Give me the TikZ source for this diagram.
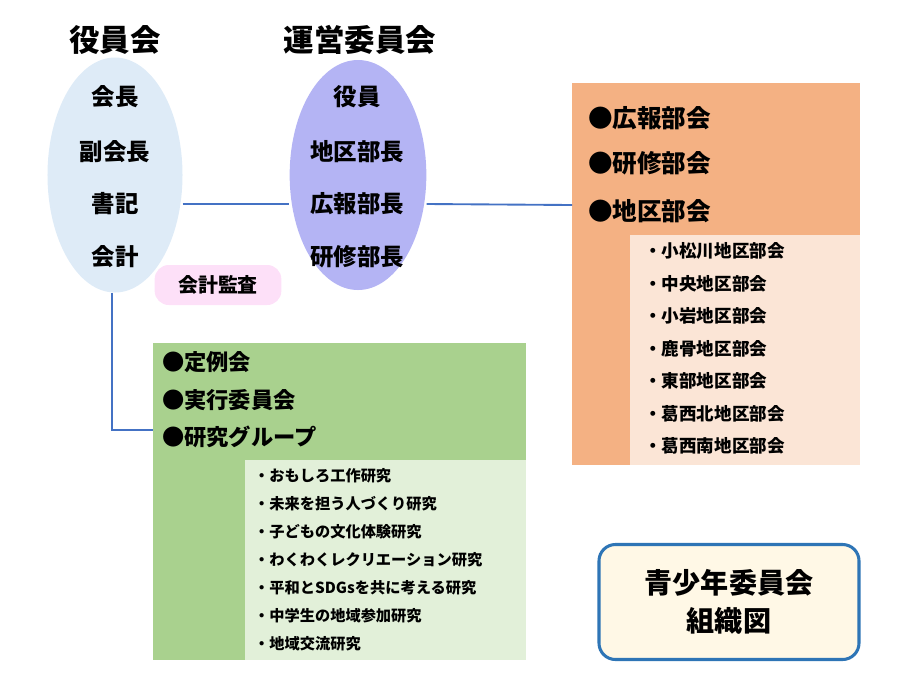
\documentclass[tikz,border=0pt]{standalone}
\usepackage{fontspec}
\setmainfont{Noto Sans CJK JP}
\usetikzlibrary{positioning,shapes.geometric}
\definecolor{linkblue}{HTML}{4472C4}
\definecolor{officerfill}{HTML}{DEEBF7}
\definecolor{boardfill}{HTML}{B4B4F4}
\definecolor{auditfill}{HTML}{FDE0F8}
\definecolor{orangedark}{HTML}{F4B183}
\definecolor{orangelight}{HTML}{FBE5D6}
\definecolor{greendark}{HTML}{A9D18E}
\definecolor{greenlight}{HTML}{E2F0D9}
\definecolor{titleframe}{HTML}{2E75B6}
\definecolor{titlefill}{HTML}{FFF8E6}
\begin{document}
\begin{tikzpicture}[
    x=0.03cm, y=-0.03cm,
    headtext/.style={font=\fontsize{26}{30}\selectfont\bfseries},
    roletext/.style={font=\fontsize{20}{24}\selectfont\bfseries},
    bigitem/.style={anchor=west, font=\fontsize{21}{25}\selectfont\bfseries},
    smallitem/.style={anchor=west, font=\fontsize{15}{18}\selectfont\bfseries},
    greenitem/.style={anchor=west, font=\fontsize{13}{16}\selectfont\bfseries},
    link/.style={draw=linkblue, line width=1.6pt}
]
\useasboundingbox (0,0) rectangle (915,687);

% officers
\node[headtext] (officerhead) at (115,40) {役員会};
\node[ellipse, fill=officerfill, inner sep=0pt,
      minimum width=4.05cm, minimum height=7.05cm] (officers) at (115,175) {};
\node[roletext] (chair) at (115,97) {会長};
\node[roletext] (vice) at (115,152) {副会長};
\node[roletext] (clerk) at (115,204) {書記};
\node[roletext] (treasurer) at (115,257) {会計};
\node[fill=auditfill, rounded corners=12pt, minimum width=3.8cm, minimum height=1.2cm,
      font=\fontsize{17}{20}\selectfont\bfseries] (audit) at (218,285) {会計監査};

% steering committee
\node[headtext] (boardhead) at (360,40) {運営委員会};
\node[ellipse, fill=boardfill, inner sep=0pt,
      minimum width=4.1cm, minimum height=6.9cm] (board) at (358,175) {};
\node[roletext] (members) at (357,97) {役員};
\node[roletext] (district) at (357,152) {地区部長};
\node[roletext] (pr) at (357,204) {広報部長};
\node[roletext] (training) at (357,257) {研修部長};

% sections
\fill[orangedark] (572,83) rectangle (860,465);
\fill[orangelight] (630,235) rectangle (860,465);
\coordinate (sections) at (572,205);
\node[bigitem] (prsec) at (584,118) {●広報部会};
\node[bigitem] (trsec) at (584,163) {●研修部会};
\node[bigitem] (dsec) at (584,211) {●地区部会};
\foreach \name [count=\i] in {小松川地区部会,中央地区部会,小岩地区部会,鹿骨地区部会,東部地区部会,葛西北地区部会,葛西南地区部会}
  \node[smallitem] (area\i) at (640,{251+32.5*(\i-1)}) {・\name};

% meetings
\fill[greendark] (153,343) rectangle (526,660);
\fill[greenlight] (245,460) rectangle (526,660);
\coordinate (meetings) at (153,430);
\node[bigitem, font=\fontsize{19}{23}\selectfont\bfseries] (regular) at (158,362) {●定例会};
\node[bigitem, font=\fontsize{19}{23}\selectfont\bfseries] (exec) at (158,400) {●実行委員会};
\node[bigitem, font=\fontsize{19}{23}\selectfont\bfseries] (study) at (158,437) {●研究グループ};
\foreach \name [count=\i] in {おもしろ工作研究,未来を担う人づくり研究,子どもの文化体験研究,わくわくレクリエーション研究,平和とSDGsを共に考える研究,中学生の地域参加研究,地域交流研究}
  \node[greenitem] (group\i) at (250,{476+27.9*(\i-1)}) {・\name};

% connectors
\draw[link] (officers.east |- pr) -- (board.west |- pr);
\draw[link] (board.east |- pr) -- (sections);
\draw[link] (officers.south) ++(-3,0) |- (meetings);

% title
\node[draw=titleframe, line width=2.6pt, fill=titlefill, rounded corners=14pt,
      minimum width=7.8cm, minimum height=3.45cm, align=center,
      font=\fontsize{24}{32}\selectfont\bfseries] (title) at (729,602) {青少年委員会\\組織図};
\end{tikzpicture}
\end{document}
